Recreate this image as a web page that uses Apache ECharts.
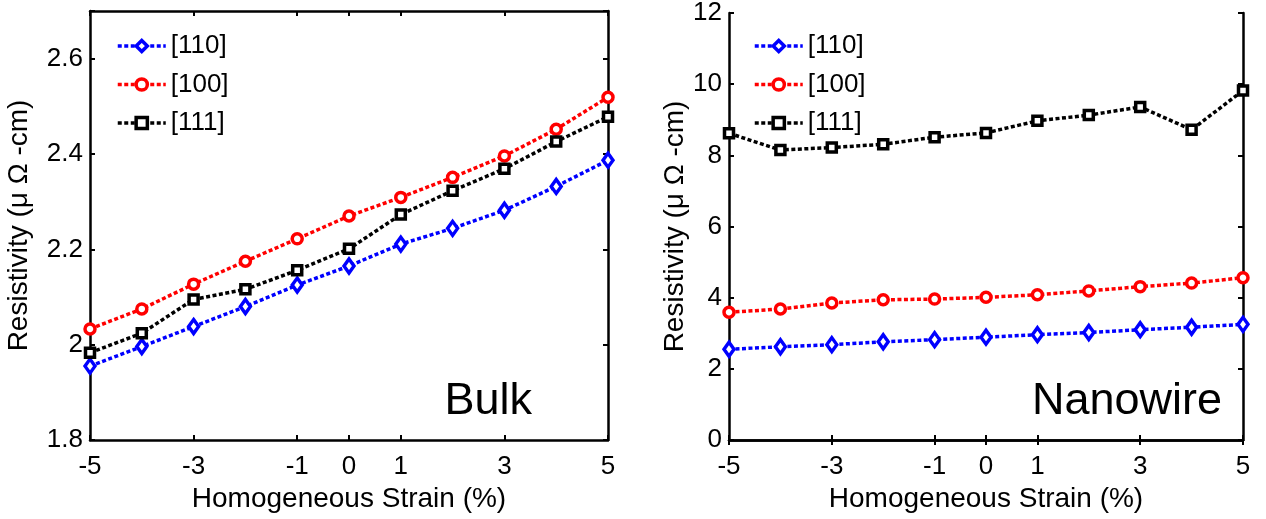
<!DOCTYPE html>
<html>
<head>
<meta charset="utf-8">
<script src="https://cdn.jsdelivr.net/npm/echarts@6/dist/echarts.min.js"></script>
<style>html,body{margin:0;padding:0;background:#fff;}#c{width:1266px;height:519px;}</style>
</head>
<body>
<div id="c"></div>
<script>
// ---- data ----
var strainLabels = ['-5','-4','-3','-2','-1','0','1','2','3','4','5'];
var shownLabels = ['-5','-3','-1','0','1','3','5'];
var seriesNames = ['[110]','[100]','[111]'];
var bulk110 = [1.955,1.996,2.038,2.080,2.125,2.165,2.211,2.244,2.282,2.332,2.387];
var bulk100 = [2.033,2.075,2.127,2.175,2.222,2.270,2.309,2.351,2.396,2.452,2.519];
var bulk111 = [1.983,2.024,2.095,2.116,2.156,2.201,2.273,2.323,2.369,2.426,2.478];
var nw110 = [2.55,2.62,2.68,2.76,2.82,2.89,2.96,3.02,3.10,3.17,3.25];
var nw100 = [3.59,3.68,3.85,3.94,3.96,4.01,4.08,4.19,4.31,4.41,4.56];
var nw111 = [8.62,8.15,8.22,8.31,8.51,8.63,8.97,9.13,9.36,8.72,9.82];
var bulkTicks = {min:1.8, max:2.7, interval:0.2};
var nwTicks = {min:0, max:12, interval:2};
var xTitle = 'Homogeneous Strain (%)';
var yTitle = 'Resistivity (\u03bc \u03a9 -cm)';
var panelLabels = ['Bulk','Nanowire'];

// ---- styles ----
var FONT = "'Liberation Sans', Arial, Helvetica, sans-serif";
var colors = ['#0000ff','#ff0000','#000000'];
var symbols = ['diamond','circle','rect'];
var symSizes = [[10,14],10,9];

function showIdx(i){ return shownLabels.indexOf(strainLabels[i]) >= 0; }
var axLine = {show:true, lineStyle:{color:'#000', width:2.5}};
var tick = {show:true, inside:true, length:5, lineStyle:{color:'#000', width:2}};

function xAxes(gi){
  return [
    {type:'category', gridIndex:gi, data:strainLabels, boundaryGap:false, position:'bottom',
     axisLine:axLine, axisTick:Object.assign({interval:function(i){return showIdx(i);}}, tick),
     axisLabel:{interval:function(i){return showIdx(i);}, color:'#000', fontFamily:FONT, fontSize:26, margin:14},
     splitLine:{show:false},
     name:xTitle, nameLocation:'middle', nameGap:43,
     nameTextStyle:{color:'#000', fontFamily:FONT, fontSize:28}},
    {type:'category', gridIndex:gi, data:strainLabels, boundaryGap:false, position:'top',
     axisLine:axLine, axisTick:Object.assign({interval:function(i){return showIdx(i);}}, tick),
     axisLabel:{show:false}, splitLine:{show:false}}
  ];
}
function yAxes(gi, t, gap){
  var fmt = function(v){
    var k = (v - t.min)/t.interval;
    if (Math.abs(k - Math.round(k)) > 1e-6) return '';
    return String(Math.round(v*10)/10);
  };
  return [
    {type:'value', gridIndex:gi, min:t.min, max:t.max, interval:t.interval, position:'left',
     axisLine:axLine, axisTick:tick, splitLine:{show:false},
     axisLabel:{formatter:fmt, color:'#000', fontFamily:FONT, fontSize:26, margin:7},
     name:yTitle, nameLocation:'middle', nameGap:gap,
     nameTextStyle:{color:'#000', fontFamily:FONT, fontSize:28}},
    {type:'value', gridIndex:gi, min:t.min, max:t.max, interval:t.interval, position:'right',
     axisLine:axLine, axisTick:tick, splitLine:{show:false}, axisLabel:{show:false}}
  ];
}
function mkSeries(gi, arrs){
  return arrs.map(function(d, k){
    return {
      type:'line', name:seriesNames[k], xAxisIndex:gi*2, yAxisIndex:gi*2, data:d,
      symbol:symbols[k], symbolSize:symSizes[k], clip:false, showAllSymbol:true,
      color:colors[k],
      lineStyle:{color:colors[k], width:3.5, type:[4,2.5]},
      itemStyle:{color:'#ffffff', borderColor:colors[k], borderWidth:3.5},
      z:5
    };
  });
}
function mkLegend(left){
  return {
    data:seriesNames.map(function(n, k){
      return {name:n,
        itemStyle:{color:'#ffffff', borderColor:colors[k], borderWidth:3.5},
        lineStyle:{color:colors[k], width:3.5, type:[4,2.5]}};
    }),
    orient:'vertical', left:left, top:28,
    itemWidth:48, itemHeight:14, itemGap:12.5, selectedMode:false,
    textStyle:{color:'#000', fontFamily:FONT, fontSize:26, lineHeight:26}
  };
}

var option = {
  animation:false,
  backgroundColor:'#fff',
  grid:[
    {left:90, right:658, top:11, bottom:79},
    {left:729, right:23, top:11, bottom:79}
  ],
  xAxis: xAxes(0).concat(xAxes(1)),
  yAxis: yAxes(0, bulkTicks, 57).concat(yAxes(1, nwTicks, 40)),
  legend:[mkLegend(111), mkLegend(748)],
  title:[
    {text:panelLabels[0], right:734, top:379, padding:0,
     textStyle:{color:'#000', fontFamily:FONT, fontSize:45, fontWeight:'normal', lineHeight:45}},
    {text:panelLabels[1], right:44, top:379, padding:0,
     textStyle:{color:'#000', fontFamily:FONT, fontSize:45, fontWeight:'normal', lineHeight:45}}
  ],
  series: mkSeries(0, [bulk110, bulk100, bulk111]).concat(mkSeries(1, [nw110, nw100, nw111]))
};
var chart = echarts.init(document.getElementById('c'), null, {renderer:'canvas'});
chart.setOption(option);
</script>
</body>
</html>
